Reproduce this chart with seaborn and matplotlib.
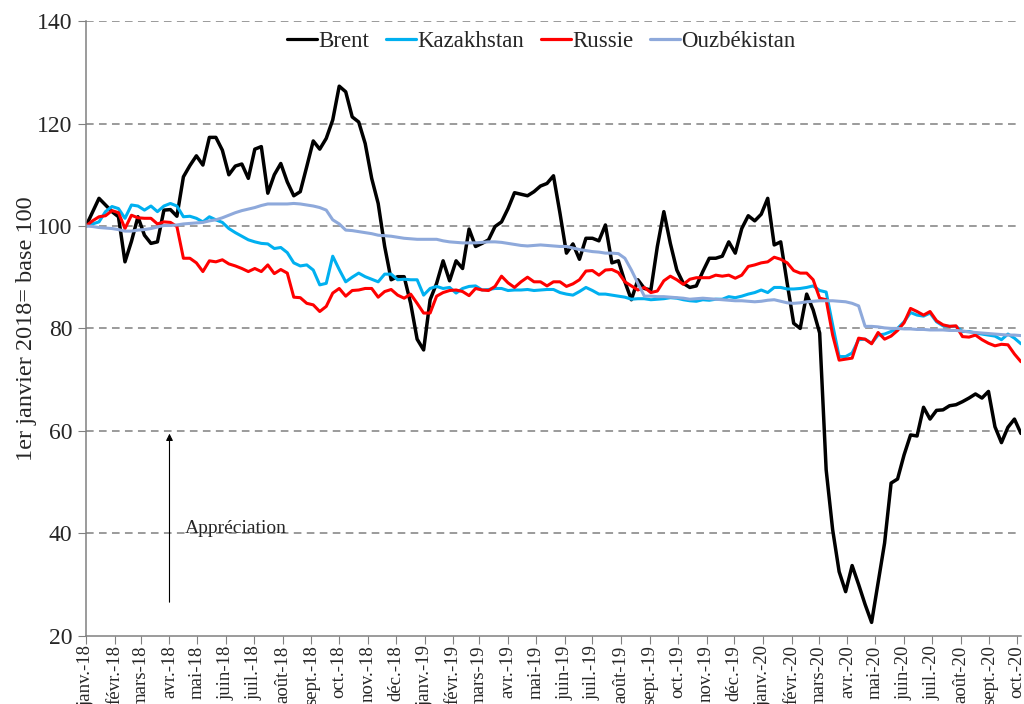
import matplotlib
matplotlib.use('Agg')
from matplotlib import pyplot as plt
import pandas as pd
import seaborn as sns

# weekly values, base 100 = 1er janvier 2018
brent = [100.0, 102.7, 105.4, 104.1, 102.8, 101.8, 93.0, 97.0, 101.8, 98.2,
         96.6, 96.9, 103.1, 103.2, 101.9, 109.6, 111.8, 113.7, 111.9, 117.3,
         117.3, 114.8, 110.0, 111.7, 112.1, 109.3, 115.0, 115.5, 106.4, 110.0,
         112.2, 108.6, 105.9, 106.7, 111.6, 116.6, 115.0, 117.1, 120.7, 127.3,
         126.2, 121.3, 120.3, 116.1, 109.3, 104.4, 96.0, 89.5, 90.1, 90.1,
         84.9, 77.9, 75.8, 85.6, 88.8, 93.2, 89.3, 93.2, 91.7, 99.4,
         96.0, 96.6, 97.3, 99.9, 100.8, 103.4, 106.5, 106.2, 105.9, 106.7,
         107.8, 108.3, 109.8, 102.5, 94.7, 96.5, 93.5, 97.6, 97.6, 97.1,
         100.2, 92.8, 93.2, 89.1, 85.6, 89.5, 87.8, 87.5, 96.0, 102.8,
         96.6, 91.4, 88.8, 88.0, 88.3, 91.1, 93.7, 93.7, 94.1, 96.9,
         94.7, 99.5, 102.0, 101.0, 102.3, 105.4, 96.3, 96.9, 88.8, 81.0,
         80.0, 86.7, 83.6, 79.1, 52.4, 40.7, 32.5, 28.6, 33.7, 30.0,
         26.1, 22.6, 30.3, 38.1, 49.8, 50.6, 55.3, 59.2, 59.0, 64.6,
         62.3, 64.0, 64.1, 64.9, 65.1, 65.7, 66.4, 67.2, 66.4, 67.7,
         60.8, 57.7, 60.7, 62.3, 59.5]

kazakhstan = [100.0, 100.4, 100.8, 102.8, 103.8, 103.4, 101.5, 104.1, 103.9, 103.1,
              103.9, 102.8, 103.9, 104.4, 103.9, 101.8, 101.9, 101.5, 100.8, 101.8,
              101.2, 100.7, 99.5, 98.7, 98.0, 97.3, 96.9, 96.6, 96.5, 95.6,
              95.8, 94.8, 92.8, 92.2, 92.4, 91.4, 88.5, 88.8, 94.1, 91.5,
              89.1, 90.0, 90.8, 90.1, 89.6, 89.1, 90.6, 90.6, 89.5, 89.6,
              89.5, 89.5, 86.5, 87.8, 88.2, 87.8, 88.0, 86.9, 87.8, 88.2,
              88.3, 87.5, 87.6, 87.8, 87.8, 87.4, 87.5, 87.5, 87.6, 87.4,
              87.5, 87.6, 87.6, 87.0, 86.7, 86.5, 87.2, 88.0, 87.4, 86.7,
              86.7, 86.5, 86.3, 86.1, 85.7, 85.8, 85.8, 85.6, 85.7, 85.8,
              86.0, 85.9, 85.6, 85.4, 85.3, 85.6, 85.5, 85.7, 85.7, 86.2,
              86.0, 86.3, 86.7, 87.0, 87.5, 87.0, 88.0, 88.0, 87.7, 87.7,
              87.8, 88.0, 88.3, 87.4, 87.1, 80.7, 74.5, 74.5, 75.2, 77.8,
              77.9, 77.1, 78.7, 78.9, 79.4, 80.0, 81.3, 83.1, 82.6, 82.4,
              83.0, 81.3, 80.5, 80.4, 80.4, 79.4, 79.4, 79.1, 78.9, 78.7,
              78.5, 77.8, 78.9, 78.1, 77.0]

russie = [100.0, 101.0, 101.8, 102.0, 103.0, 102.6, 99.5, 102.1, 101.6, 101.5,
          101.5, 100.4, 100.8, 100.7, 99.9, 93.7, 93.7, 92.8, 91.1, 93.2,
          93.0, 93.4, 92.6, 92.2, 91.7, 91.1, 91.7, 91.1, 92.4, 90.7,
          91.5, 90.8, 86.1, 86.0, 84.9, 84.6, 83.3, 84.3, 86.9, 87.8,
          86.3, 87.4, 87.5, 87.8, 87.8, 86.1, 87.2, 87.6, 86.5, 85.9,
          86.7, 84.9, 83.0, 83.0, 86.3, 87.0, 87.4, 87.5, 87.2, 86.4,
          87.8, 87.5, 87.4, 88.2, 90.2, 88.9, 88.0, 89.1, 90.0, 89.1,
          89.1, 88.3, 89.1, 89.1, 88.2, 88.7, 89.5, 91.2, 91.3, 90.4,
          91.4, 91.5, 90.9, 89.1, 88.3, 87.5, 88.0, 87.0, 87.3, 89.3,
          90.2, 89.5, 88.6, 89.6, 89.9, 89.9, 89.9, 90.4, 90.2, 90.4,
          89.8, 90.4, 92.1, 92.4, 92.8, 93.0, 93.9, 93.5, 92.8, 91.3,
          90.8, 90.8, 89.5, 85.9, 85.6, 78.7, 73.8, 74.0, 74.2, 78.1,
          77.9, 77.0, 79.2, 77.9, 78.5, 79.6, 81.1, 83.9, 83.3, 82.6,
          83.3, 81.5, 80.7, 80.4, 80.5, 78.4, 78.3, 78.7, 77.8, 77.1,
          76.6, 76.9, 76.8, 75.0, 73.5]

ouzbekistan = [100.0, 99.9, 99.7, 99.6, 99.5, 99.3, 99.0, 99.0, 99.2, 99.3,
               99.5, 99.8, 100.1, 100.1, 100.2, 100.4, 100.5, 100.6, 100.7, 101.0,
               101.2, 101.6, 102.1, 102.6, 103.0, 103.3, 103.6, 104.0, 104.3, 104.3,
               104.3, 104.3, 104.4, 104.3, 104.1, 103.9, 103.6, 103.1, 101.2, 100.4,
               99.2, 99.1, 98.9, 98.7, 98.5, 98.2, 98.1, 98.0, 97.8, 97.6,
               97.5, 97.4, 97.4, 97.4, 97.4, 97.1, 96.9, 96.8, 96.7, 96.7,
               96.7, 96.8, 96.9, 96.9, 96.8, 96.6, 96.4, 96.2, 96.1, 96.2,
               96.3, 96.2, 96.1, 96.0, 96.0, 95.7, 95.4, 95.2, 95.0, 94.9,
               94.7, 94.7, 94.6, 93.7, 91.4, 88.8, 86.3, 86.3, 86.2, 86.2,
               86.1, 86.0, 85.9, 85.7, 85.8, 85.9, 85.8, 85.7, 85.6, 85.5,
               85.4, 85.4, 85.3, 85.2, 85.3, 85.5, 85.6, 85.3, 85.0, 84.9,
               85.0, 85.2, 85.3, 85.4, 85.4, 85.4, 85.3, 85.2, 84.9, 84.4,
               80.4, 80.4, 80.3, 80.1, 80.0, 80.0, 79.9, 79.9, 79.8, 79.8,
               79.7, 79.7, 79.7, 79.6, 79.6, 79.5, 79.3, 79.2, 79.1, 79.0,
               78.9, 78.8, 78.7, 78.7, 78.6]

series = ['Brent', 'Kazakhstan', 'Russie', 'Ouzbékistan']
colors = ['#000000', '#00B0F0', '#FF0000', '#8EA9DB']
mois = ['janv.', 'févr.', 'mars', 'avr.', 'mai', 'juin',
        'juil.', 'août', 'sept.', 'oct.', 'nov.', 'déc.']

dates = pd.date_range('2018-01-01', periods=len(brent), freq='7D')
df = pd.DataFrame({'date': dates, 'Brent': brent, 'Kazakhstan': kazakhstan,
                   'Russie': russie, 'Ouzbékistan': ouzbekistan})
long = df.melt(id_vars='date', var_name='serie', value_name='indice')

sns.set_style('white')
plt.rcParams['font.family'] = ['Liberation Serif', 'DejaVu Serif']

fig = plt.figure(figsize=(10.24, 7.04), dpi=100)
ax = fig.add_axes([0.084, 0.097, 0.913, 0.873])

sns.lineplot(data=long, x='date', y='indice', hue='serie', hue_order=series,
             palette=colors, linewidth=2.3, ax=ax)
for line, lw in zip(ax.get_lines(), [2.5, 2.2, 2.2, 2.2]):
    line.set_linewidth(lw)

ax.set_ylim(20, 140)
ax.set_yticks(range(20, 141, 20))
ax.set_xlim(dates[0], dates[-1])
ticks = pd.date_range('2018-01-01', '2020-10-01', freq='MS')
ax.set_xticks(ticks)
ax.set_xticklabels([f"{mois[d.month - 1]}-{d.strftime('%y')}" for d in ticks],
                   rotation=90, fontsize=13.5)
ax.tick_params(axis='y', labelsize=17, length=6, color='#808080', direction='out',
               left=True, pad=4)
ax.tick_params(axis='x', length=6, color='#808080', direction='out', bottom=True, pad=1)
for y in range(40, 141, 20):
    ax.axhline(y, color='#808080', linestyle=(0, (5, 3.5)), linewidth=1.1, zorder=0)
for s in ['top', 'right']:
    ax.spines[s].set_visible(False)
for s in ['left', 'bottom']:
    ax.spines[s].set_color('#808080')
    ax.spines[s].set_linewidth(1.1)

ax.set_xlabel('')
ax.set_ylabel('1er janvier 2018= base 100', fontsize=17.5, labelpad=0)

ax.legend(loc='upper center', bbox_to_anchor=(0.487, 1.017), ncol=4, frameon=False,
          fontsize=16.5, handlelength=1.3, handletextpad=0.05, columnspacing=0.75)

ax.annotate('', xy=(pd.Timestamp('2018-04-01'), 60), xytext=(pd.Timestamp('2018-04-01'), 26),
            arrowprops=dict(arrowstyle='-|>', color='black', lw=0.8, mutation_scale=10))
ax.text(pd.Timestamp('2018-04-18'), 41, 'Appréciation', fontsize=14, va='center')

fig.savefig('out.png', dpi=100)
